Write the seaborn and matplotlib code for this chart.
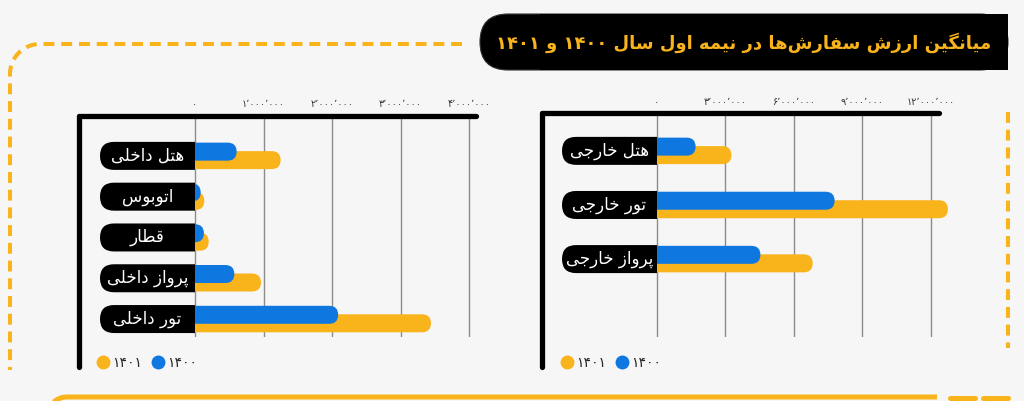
import re
import numpy as np
import pandas as pd
import seaborn as sns
import matplotlib.pyplot as plt
from matplotlib.patches import FancyBboxPatch, Rectangle
from matplotlib.lines import Line2D

# data
years = ['۱۴۰۰', '۱۴۰۱']
domestic = ['هتل داخلی', 'اتوبوس', 'قطار', 'پرواز داخلی', 'تور داخلی']
domestic_1400 = [608000, 83000, 130000, 574000, 2090000]
domestic_1401 = [1250000, 136000, 200000, 963000, 3445000]
foreign = ['هتل خارجی', 'تور خارجی', 'پرواز خارجی']
foreign_1400 = [1690000, 7780000, 4530000]
foreign_1401 = [3260000, 12740000, 6820000]
domestic_ticks = [0, 1000000, 2000000, 3000000, 4000000]
foreign_ticks = [0, 3000000, 6000000, 9000000, 12000000]
title = 'میانگین ارزش سفارش‌ها در نیمه اول سال ۱۴۰۰ و ۱۴۰۱'

YELLOW = '#f9b31b'
BLUE = '#0f77e0'
BG = '#f6f6f6'
W, H = 1024, 401
BAR_PX = 18
SHIFT_PX = 8.5

# arabic letter forms: isolated, final, initial, medial
FORMS = {
    'ا': ('\ufe8d', '\ufe8e', None, None),
    'ب': ('\ufe8f', '\ufe90', '\ufe91', '\ufe92'),
    'پ': ('\ufb56', '\ufb57', '\ufb58', '\ufb59'),
    'ت': ('\ufe95', '\ufe96', '\ufe97', '\ufe98'),
    'ج': ('\ufe9d', '\ufe9e', '\ufe9f', '\ufea0'),
    'خ': ('\ufea5', '\ufea6', '\ufea7', '\ufea8'),
    'د': ('\ufea9', '\ufeaa', None, None),
    'ر': ('\ufead', '\ufeae', None, None),
    'ز': ('\ufeaf', '\ufeb0', None, None),
    'س': ('\ufeb1', '\ufeb2', '\ufeb3', '\ufeb4'),
    'ش': ('\ufeb5', '\ufeb6', '\ufeb7', '\ufeb8'),
    'ط': ('\ufec1', '\ufec2', '\ufec3', '\ufec4'),
    'ف': ('\ufed1', '\ufed2', '\ufed3', '\ufed4'),
    'ق': ('\ufed5', '\ufed6', '\ufed7', '\ufed8'),
    'گ': ('\ufb92', '\ufb93', '\ufb94', '\ufb95'),
    'ل': ('\ufedd', '\ufede', '\ufedf', '\ufee0'),
    'م': ('\ufee1', '\ufee2', '\ufee3', '\ufee4'),
    'ن': ('\ufee5', '\ufee6', '\ufee7', '\ufee8'),
    'ه': ('\ufee9', '\ufeea', '\ufeeb', '\ufeec'),
    'و': ('\ufeed', '\ufeee', None, None),
    'ی': ('\ufbfc', '\ufbfd', '\ufbfe', '\ufbff'),
}


def shape(text):
    # join letters and put them in visual (right to left) order
    out = []
    for i, ch in enumerate(text):
        if ch not in FORMS:
            if ch != '\u200c':
                out.append(ch)
            continue
        f = FORMS[ch]
        prev = text[i - 1] if i > 0 else ''
        nxt = text[i + 1] if i + 1 < len(text) else ''
        join_prev = prev in FORMS and FORMS[prev][2] is not None
        join_next = f[2] is not None and nxt in FORMS
        if join_prev and join_next:
            out.append(f[3])
        elif join_prev:
            out.append(f[1])
        elif join_next:
            out.append(f[2])
        else:
            out.append(f[0])
    vis = ''.join(out)[::-1]
    return re.sub('[۰-۹٬]+', lambda m: m.group(0)[::-1], vis)


PERSIAN = str.maketrans('0123456789,', '۰۱۲۳۴۵۶۷۸۹٬')


def fa_num(v):
    return f'{int(v):,}'.translate(PERSIAN)


sns.set_style('white')
plt.rcParams['font.family'] = ['DejaVu Sans']

fig = plt.figure(figsize=(W / 100, H / 100), dpi=100, facecolor=BG)

# background layer in pixel coordinates for the frame decorations
bg = fig.add_axes([0, 0, 1, 1], zorder=-1)
bg.set_xlim(0, W)
bg.set_ylim(H, 0)
bg.axis('off')

t = np.linspace(1.5 * np.pi, np.pi, 30)
px = np.concatenate([[462], 40 + 30 * np.cos(t), [10]])
py = np.concatenate([[44], 74 + 30 * np.sin(t), [370]])
bg.plot(px, py, color=YELLOW, lw=2.9, dashes=(2.7, 1.7))
bg.plot([1008, 1008], [112, 348], color=YELLOW, lw=2.9, dashes=(2.7, 1.7))
t = np.linspace(np.pi, 1.5 * np.pi, 30)
bg.plot(np.concatenate([67 + 20 * np.cos(t), [937]]),
        np.concatenate([417 + 20 * np.sin(t), [397]]),
        color=YELLOW, lw=3.6, solid_capstyle='butt')
bg.plot([950, 975], [398, 398], color=YELLOW, lw=3.6)
bg.plot([983, 1008], [398, 398], color=YELLOW, lw=3.6)

# title box
bg.add_patch(FancyBboxPatch((480, 14), 528, 56, boxstyle='round,pad=0,rounding_size=28',
                            fc='black', ec='#333333', lw=0.8))
bg.add_patch(Rectangle((540, 14), 468, 56, fc='black', ec='none'))
bg.text(744, 43, shape(title), color=YELLOW, fontsize=13, fontweight='bold',
        ha='center', va='center')


def panel(rect, cats, v1400, v1401, ticks, xlim, ylim, legend_x):
    l, t, r, b = rect
    ax = fig.add_axes([l / W, 1 - b / H, (r - l) / W, (b - t) / H])
    ax.set_facecolor('none')
    sx = (xlim[1] - xlim[0]) / (r - l)
    sy = (ylim[0] - ylim[1]) / (b - t)

    df = pd.DataFrame({
        'category': cats * 2,
        'year': [years[0]] * len(cats) + [years[1]] * len(cats),
        'value': v1400 + v1401,
    })
    sns.barplot(df, x='value', y='category', hue='year', order=cats, hue_order=years,
                palette=[BLUE, YELLOW], saturation=1, dodge=True,
                width=2 * SHIFT_PX * sy, legend=False, ax=ax)
    ax.set_xlim(xlim)
    ax.set_ylim(ylim)
    positions = ax.get_yticks()

    # rounded bar ends; left end tucks under the label pill
    rx = BAR_PX / 2 * sx
    h = BAR_PX * sy
    for bars, z in zip(ax.containers, [3, 2]):
        for p in bars:
            cy = p.get_y() + p.get_height() / 2
            end = p.get_x() + p.get_width()
            x0 = -2 * BAR_PX * sx
            ax.add_patch(FancyBboxPatch((x0, cy - h / 2), end - x0, h,
                                        boxstyle=f'round,pad=0,rounding_size={rx}',
                                        mutation_aspect=sy / sx, fc=p.get_facecolor(),
                                        ec='none', zorder=z, clip_on=False))
            p.remove()

    # category pills, square on the right where the bars start
    left_half = Rectangle((xlim[0], ylim[1]), -xlim[0], ylim[0] - ylim[1],
                          transform=ax.transData)
    for y, cat in zip(positions, cats):
        pill = FancyBboxPatch((-95 * sx, y - 14 * sy), 140 * sx, 28 * sy,
                              boxstyle=f'round,pad=0,rounding_size={14 * sx}',
                              mutation_aspect=sy / sx, fc='black', ec='none', zorder=4)
        ax.add_patch(pill)
        pill.set_clip_path(left_half)
        ax.text(-47.5 * sx, y, shape(cat), color='white', fontsize=12,
                ha='center', va='center', zorder=5)

    ax.set_yticks([])
    ax.set_xlabel('')
    ax.set_ylabel('')
    for s in ax.spines.values():
        s.set_visible(False)
    ax.xaxis.tick_top()
    ax.set_xticks(ticks)
    ax.set_xticklabels([fa_num(v) for v in ticks])
    ax.tick_params(axis='x', length=0, pad=4.5, labelsize=7, labelcolor='#333333')
    ax.grid(axis='x', color='#8c8c8c', lw=1.0)
    ax.set_axisbelow(True)

    ext = 30 / (b - t)
    ax.plot([0, 1], [1, 1], transform=ax.transAxes, color='black', lw=3.8,
            solid_capstyle='round', clip_on=False, zorder=6)
    ax.plot([0, 0], [1, -ext], transform=ax.transAxes, color='black', lw=3.8,
            solid_capstyle='round', clip_on=False, zorder=6)

    handles = [Line2D([], [], marker='o', ls='', color=YELLOW, ms=9),
               Line2D([], [], marker='o', ls='', color=BLUE, ms=9)]
    ax.legend(handles, [years[1], years[0]], loc='center left',
              bbox_to_anchor=(legend_x / W, 1 - 363 / H), bbox_transform=fig.transFigure,
              ncol=2, frameon=False, handlelength=0.8, handletextpad=0.3,
              columnspacing=0.7, fontsize=10, borderpad=0, borderaxespad=0)
    return ax


panel((79, 115.5, 476, 337), domestic, domestic_1400, domestic_1401, domestic_ticks,
      ((79 - 195) / 68.5 * 1e6, (476 - 195) / 68.5 * 1e6), (4.44, -0.99), 97)
panel((542, 113, 938.7, 337), foreign, foreign_1400, foreign_1401, foreign_ticks,
      ((542 - 657) / 22.83 * 1e6, (938.7 - 657) / 22.83 * 1e6), (3.44, -0.70), 561)

fig.savefig('out.png', dpi=100, facecolor=BG)
